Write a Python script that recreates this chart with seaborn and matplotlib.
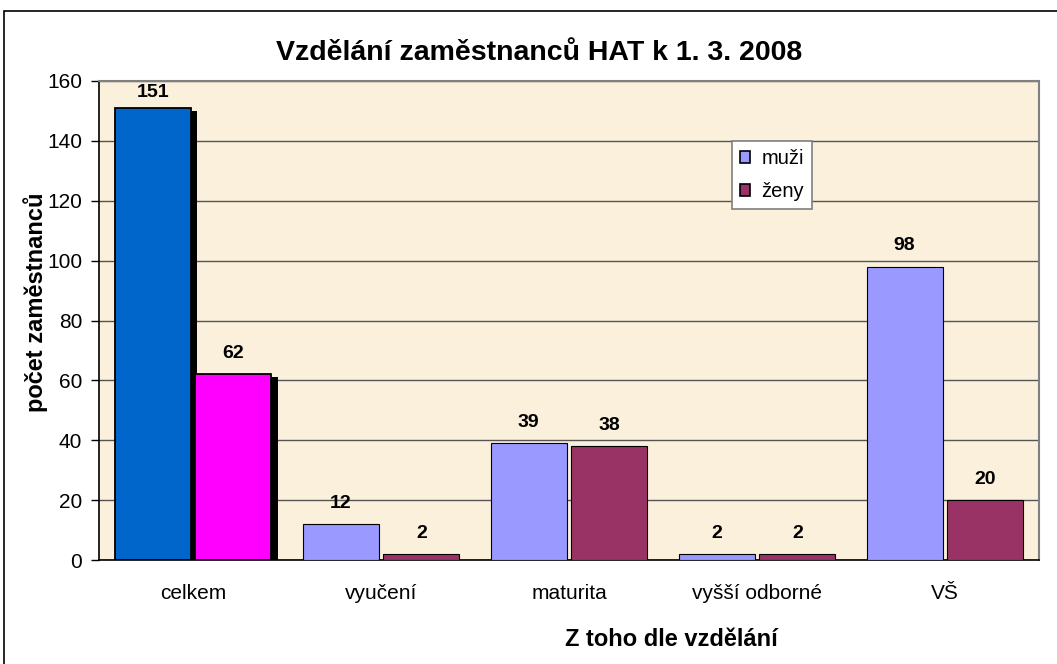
import matplotlib
matplotlib.use("Agg")
import matplotlib.pyplot as plt
import seaborn as sns
import pandas as pd
from matplotlib.patches import Rectangle

categories = ["celkem", "vyučení", "maturita", "vyšší odborné", "VŠ"]
muzi = [151, 12, 39, 2, 98]
zeny = [62, 2, 38, 2, 20]
series = ["muži", "ženy"]
title = "Vzdělání zaměstnanců HAT k 1. 3. 2008"
xlabel = "Z toho dle vzdělání"
ylabel = "počet zaměstnanců"

df = pd.DataFrame({
    "kategorie": categories * 2,
    "pohlaví": [series[0]] * len(categories) + [series[1]] * len(categories),
    "počet": muzi + zeny,
})

sns.set_theme(style="white")
plt.rcParams["font.family"] = ["Liberation Sans", "DejaVu Sans"]
for k in ["text.color", "axes.labelcolor", "xtick.color", "ytick.color"]:
    plt.rcParams[k] = "black"

W, H = 1057, 664
fig = plt.figure(figsize=(W / 100, H / 100), dpi=100)
fig.patch.set_facecolor("white")
ax = fig.add_axes([99 / W, 1 - 560 / H, (1039 - 99) / W, (560 - 81) / H])
ax.set_facecolor("#FAF0DB")

palette = {"muži": "#9999FF", "ženy": "#993366"}
sns.barplot(data=df, x="kategorie", y="počet", hue="pohlaví", palette=palette,
            order=categories, hue_order=series, width=0.86, gap=0.06,
            edgecolor="black", linewidth=0.8, saturation=1, ax=ax, legend=True, zorder=3)

# first group special colours with drop shadow
special = ["#0066CC", "#FF00FF"]
for cont, col in zip(ax.containers, special):
    bar = cont.patches[0]
    bar.set_facecolor(col)
    bar.set_linewidth(1.3)
    x, y = bar.get_x(), bar.get_y()
    w, h = bar.get_width(), bar.get_height()
    sh = Rectangle((x + 0.034, y), w, h - 1.0, facecolor="black", edgecolor="none", zorder=2.5)
    ax.add_patch(sh)

for cont in ax.containers:
    for bar in cont.patches:
        v = bar.get_height()
        pad = 5 if v > 140 else 9
        ax.annotate(f"{int(round(v))}", (bar.get_x() + bar.get_width() / 2, v),
                    xytext=(0, pad), textcoords="offset points",
                    ha="center", va="bottom", fontsize=14, fontweight="bold", zorder=5)

ax.set_xlim(-0.5, 4.5)
ax.set_ylim(0, 160)
ax.set_yticks(range(0, 161, 20))
ax.yaxis.grid(True, color="#555555", linewidth=1.0, zorder=0)
ax.set_axisbelow(True)

ax.set_xticks(range(len(categories)))
ax.set_xticklabels(categories)
ax.set_xticks([i - 0.5 for i in range(len(categories) + 1)], minor=True)
ax.tick_params(axis="x", which="major", length=0, labelsize=15, pad=17)
ax.tick_params(axis="x", which="minor", length=8, width=1, color="black", direction="out")
ax.tick_params(axis="y", length=6, width=1, color="black", direction="out",
               labelsize=15, pad=6, left=True)
ax.set_xlabel("")
ax.set_ylabel("")

for s in ["left", "bottom"]:
    ax.spines[s].set_color("black")
    ax.spines[s].set_linewidth(1.2)
for s in ["top", "right"]:
    ax.spines[s].set_color("#808080")
    ax.spines[s].set_linewidth(1.5)

leg = ax.legend(loc="upper left", bbox_to_anchor=((732 - 99) / 940, (560 - 141) / 479),
                frameon=True, fancybox=False, fontsize=14.5, handlelength=0.5, handleheight=0.5,
                handletextpad=0.55, borderpad=0.4, labelspacing=0.7, borderaxespad=0)
leg.get_frame().set_edgecolor("#808080")
leg.get_frame().set_linewidth(1.2)
leg.get_frame().set_facecolor("white")
leg.get_frame().set_alpha(1)
leg.set_title(None)
for h in leg.legend_handles:
    h.set_edgecolor("black")
    h.set_linewidth(1.2)

fig.text(539 / W, 1 - 60 / H, title, ha="center", va="baseline", fontsize=20.5, fontweight="bold")
fig.text(671 / W, 1 - 646 / H, xlabel, ha="center", va="baseline", fontsize=17, fontweight="bold")
fig.text(36 / W, 1 - 302 / H, ylabel, ha="center", va="center", rotation=90,
         fontsize=17, fontweight="bold")

# outer chart border
fig.add_artist(Rectangle((4 / W, -0.1), 1.2, 1 - 11 / H + 0.1, transform=fig.transFigure,
                         fill=False, edgecolor="black", linewidth=1.2))

fig.savefig("out.png", dpi=100)
